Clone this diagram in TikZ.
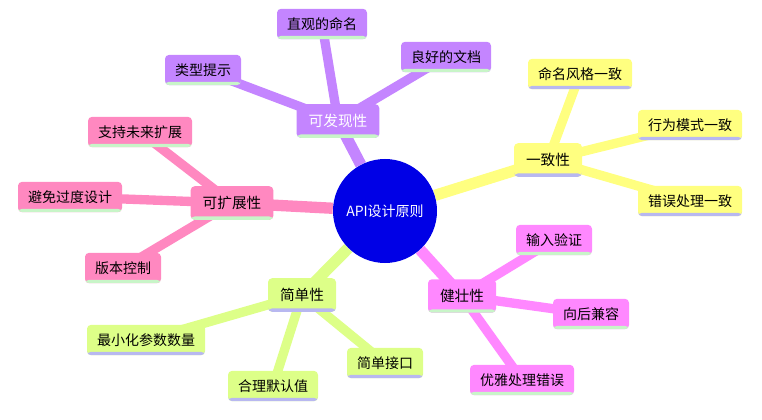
\documentclass[tikz,border=0pt]{standalone}
\usepackage{fontspec}
\setmainfont{Noto Sans CJK SC}
\usetikzlibrary{backgrounds}
\definecolor{cpurple}{HTML}{C485FF}
\definecolor{cyellow}{HTML}{FFFF80}
\definecolor{cpink}{HTML}{FF88C0}
\definecolor{cgreen}{HTML}{DDFF88}
\definecolor{cmagenta}{HTML}{FF88FF}
\definecolor{stripgreen}{HTML}{C8F5C8}
\definecolor{striplav}{HTML}{B8B8F0}
\tikzset{
  topic/.style 2 args={fill=#1, rounded corners=3pt, inner xsep=7.5pt, inner ysep=6.5pt,
    font=\fontsize{10.5}{12}\selectfont,
    path picture={\fill[#2] ([yshift=2.5pt]path picture bounding box.south west) rectangle (path picture bounding box.south east);}},
  main/.style={inner xsep=9pt, inner ysep=7.5pt, font=\fontsize{11}{13}\selectfont},
  branch/.style={line width=8.5pt, #1},
  twig/.style={line width=7pt, #1}
}
\begin{document}
\begin{tikzpicture}[x=0.75pt, y=-0.75pt]
  \useasboundingbox (0,0) rectangle (762,420);
  % center
  \node[circle, fill={rgb,255:red,0;green,0;blue,230}, minimum size=78pt, text=white,
    font=\fontsize{10.5}{12}\selectfont] (api) at (385,211) {API设计原则};
  % discoverability
  \node[topic={cpurple}{stripgreen}, main, text=white] (disc) at (338,121) {可发现性};
  \node[topic={cpurple}{stripgreen}] (naming) at (322,24) {直观的命名};
  \node[topic={cpurple}{stripgreen}] (hints) at (203,70) {类型提示};
  \node[topic={cpurple}{stripgreen}] (docs) at (446,57) {良好的文档};
  % consistency
  \node[topic={cyellow}{striplav}, main] (cons) at (548,160) {一致性};
  \node[topic={cyellow}{striplav}] (style) at (580,74) {命名风格一致};
  \node[topic={cyellow}{striplav}] (behav) at (690,125) {行为模式一致};
  \node[topic={cyellow}{striplav}] (errcons) at (690,201) {错误处理一致};
  % robustness
  \node[topic={cmagenta}{stripgreen}, main] (robust) at (462,296) {健壮性};
  \node[topic={cmagenta}{stripgreen}] (valid) at (554,240) {输入验证};
  \node[topic={cmagenta}{stripgreen}] (compat) at (591,314) {向后兼容};
  \node[topic={cmagenta}{stripgreen}] (graceful) at (522,380) {优雅处理错误};
  % simplicity
  \node[topic={cgreen}{striplav}, main] (simple) at (302,295) {简单性};
  \node[topic={cgreen}{striplav}] (params) at (146,340) {最小化参数数量};
  \node[topic={cgreen}{striplav}] (defaults) at (273,386) {合理默认值};
  \node[topic={cgreen}{striplav}] (iface) at (385,363) {简单接口};
  % extensibility
  \node[topic={cpink}{stripgreen}, main] (ext) at (232,203) {可扩展性};
  \node[topic={cpink}{stripgreen}] (future) at (140,132) {支持未来扩展};
  \node[topic={cpink}{stripgreen}] (overdesign) at (70,197) {避免过度设计};
  \node[topic={cpink}{stripgreen}] (version) at (123,268) {版本控制};
  \begin{scope}[on background layer]
    \draw[branch=cpurple] (api) -- (disc.center);
    \draw[branch=cyellow] (api) -- (cons.center);
    \draw[branch=cmagenta] (api) -- (robust.center);
    \draw[branch=cgreen] (api) -- (simple.center);
    \draw[branch=cpink] (api) -- (ext.center);
    \foreach \leaf in {naming,hints,docs} \draw[twig=cpurple] (disc.center) -- (\leaf.center);
    \foreach \leaf in {style,behav,errcons} \draw[twig=cyellow] (cons.center) -- (\leaf.center);
    \foreach \leaf in {valid,compat,graceful} \draw[twig=cmagenta] (robust.center) -- (\leaf.center);
    \foreach \leaf in {params,defaults,iface} \draw[twig=cgreen] (simple.center) -- (\leaf.center);
    \foreach \leaf in {future,overdesign,version} \draw[twig=cpink] (ext.center) -- (\leaf.center);
  \end{scope}
\end{tikzpicture}
\end{document}
